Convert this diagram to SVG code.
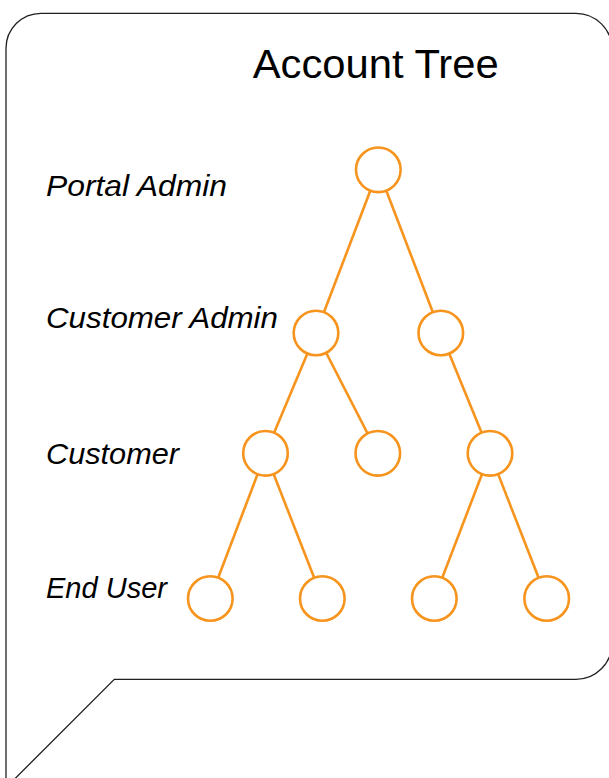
<svg xmlns="http://www.w3.org/2000/svg" width="609" height="778" viewBox="0 0 609 778">
  <style>
    .frame { fill: #ffffff; stroke: #231f20; stroke-width: 1.3; }
    .title { font-family: "Liberation Sans", Arial, sans-serif; font-size: 40px; fill: #000000; }
    .lvl { font-family: "Liberation Sans", Arial, sans-serif; font-size: 30px; font-style: italic; fill: #000000; }
    .edge { stroke: #f7941d; stroke-width: 2.6; fill: none; }
    .node { fill: #ffffff; stroke: #f7941d; stroke-width: 2.6; }
  </style>
  <rect width="609" height="778" fill="#ffffff"/>
  <path class="frame" d="M 6 787.6 L 6 48.3 A 35 35 0 0 1 41 13.3 L 576 13.3 A 36 36 0 0 1 612 49.3 L 612 643.3 A 36 36 0 0 1 576 679.3 L 114.3 679.3 Z"/>
  <text class="title" x="252.7" y="78.3" textLength="246" lengthAdjust="spacingAndGlyphs">Account Tree</text>
  <g id="labels">
    <text class="lvl" x="46" y="195.5" textLength="181" lengthAdjust="spacingAndGlyphs">Portal Admin</text>
    <text class="lvl" x="46" y="327.7" textLength="232" lengthAdjust="spacingAndGlyphs">Customer Admin</text>
    <text class="lvl" x="46" y="464" textLength="133" lengthAdjust="spacingAndGlyphs">Customer</text>
    <text class="lvl" x="46" y="598" textLength="121" lengthAdjust="spacingAndGlyphs">End User</text>
  </g>
  <g id="connectors">
    <line class="edge" x1="378.3" y1="169.8" x2="316" y2="333"/>
    <line class="edge" x1="378.3" y1="169.8" x2="440.8" y2="333"/>
    <line class="edge" x1="316" y1="333" x2="265.5" y2="453.3"/>
    <line class="edge" x1="316" y1="333" x2="377.8" y2="453.3"/>
    <line class="edge" x1="440.8" y1="333" x2="490" y2="453.3"/>
    <line class="edge" x1="265.5" y1="453.3" x2="210.3" y2="598.5"/>
    <line class="edge" x1="265.5" y1="453.3" x2="322.3" y2="598.5"/>
    <line class="edge" x1="490" y1="453.3" x2="434.3" y2="598.5"/>
    <line class="edge" x1="490" y1="453.3" x2="546.7" y2="598.5"/>
  </g>
  <g id="node-root"><circle class="node" cx="378.3" cy="169.8" r="22.3"/></g>
  <g id="node-ca1"><circle class="node" cx="316" cy="333" r="22.3"/></g>
  <g id="node-ca2"><circle class="node" cx="440.8" cy="333" r="22.3"/></g>
  <g id="node-c1"><circle class="node" cx="265.5" cy="453.3" r="22.3"/></g>
  <g id="node-c2"><circle class="node" cx="377.8" cy="453.3" r="22.3"/></g>
  <g id="node-c3"><circle class="node" cx="490" cy="453.3" r="22.3"/></g>
  <g id="node-u1"><circle class="node" cx="210.3" cy="598.5" r="22.3"/></g>
  <g id="node-u2"><circle class="node" cx="322.3" cy="598.5" r="22.3"/></g>
  <g id="node-u3"><circle class="node" cx="434.3" cy="598.5" r="22.3"/></g>
  <g id="node-u4"><circle class="node" cx="546.7" cy="598.5" r="22.3"/></g>
</svg>
